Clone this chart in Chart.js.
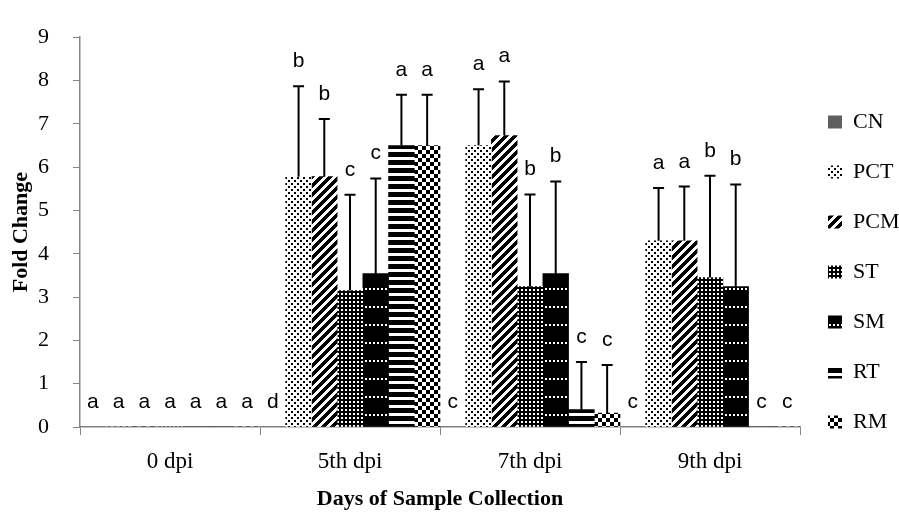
<!DOCTYPE html>
<html>
<head>
<meta charset="utf-8">
<script src="https://cdn.jsdelivr.net/npm/chart.js@4.4.1/dist/chart.umd.min.js"></script>
<style>
    html, body { margin: 0; padding: 0; background: #fff; }
    #wrap { width: 899px; height: 513px; position: relative; }
</style>
</head>
<body>
<div id="wrap"><canvas id="chart"></canvas></div>
<script>
// Datos
const categories = ['0 dpi', '5th dpi', '7th dpi', '9th dpi'];
const seriesNames = ['CN', 'PCT', 'PCM', 'ST', 'SM', 'RT', 'RM'];

const cnValues  = [0, 0, 0, 0];
const pctValues = [0, 5.78, 6.50, 4.30];
const pcmValues = [0, 5.78, 6.73, 4.30];
const stValues  = [0, 3.15, 3.24, 3.45];
const smValues  = [0, 3.54, 3.54, 3.24];
const rtValues  = [0, 6.50, 0.40, 0];
const rmValues  = [0, 6.50, 0.32, 0];

// Barras de error (solo hacia arriba)
const cnErr  = [0, 0, 0, 0];
const pctErr = [0, 2.09, 1.30, 1.22];
const pcmErr = [0, 1.33, 1.25, 1.25];
const stErr  = [0, 2.21, 2.13, 2.35];
const smErr  = [0, 2.20, 2.13, 2.36];
const rtErr  = [0, 1.17, 1.10, 0];
const rmErr  = [0, 1.17, 1.11, 0];

// Letras de significancia
const cnLetters  = ['a', 'd', 'c', 'c'];
const pctLetters = ['a', 'b', 'a', 'a'];
const pcmLetters = ['a', 'b', 'a', 'a'];
const stLetters  = ['a', 'c', 'b', 'b'];
const smLetters  = ['a', 'c', 'b', 'b'];
const rtLetters  = ['a', 'a', 'c', 'c'];
const rmLetters  = ['a', 'a', 'c', 'c'];

const yTicks = { min: 0, max: 9, step: 1 };

const SERIF = '"Liberation Serif", "Times New Roman", serif';
const SANS = '"Liberation Sans", Arial, sans-serif';

const canvas = document.getElementById('chart');
const ctx = canvas.getContext('2d');

/**
 * Crear patron de relleno a partir de una funcion pixel a pixel
 */
function makePattern(w, h, bg, fg, isFg) {
    const c = document.createElement('canvas');
    c.width = w;
    c.height = h;
    const p = c.getContext('2d');
    p.fillStyle = bg;
    p.fillRect(0, 0, w, h);
    p.fillStyle = fg;
    for (let y = 0; y < h; y++) {
        for (let x = 0; x < w; x++) {
            if (isFg(x, y)) p.fillRect(x, y, 1, 1);
        }
    }
    return ctx.createPattern(c, 'repeat');
}

const fills = {
    CN: '#5f5f5f',
    PCT: makePattern(6, 6, '#fff', '#000', (x, y) =>
        (x < 2 && y < 2) || (x >= 3 && x < 5 && y >= 3 && y < 5)),
    PCM: makePattern(9, 9, '#fff', '#000', (x, y) => ((x + y) % 9) < 5),
    ST: makePattern(4, 4, '#000', '#fff', (x, y) => x >= 1 && x < 3 && y >= 1 && y < 3),
    SM: makePattern(4, 18, '#000', '#fff', (x, y) => x >= 1 && x < 3 && y < 2),
    RT: makePattern(8, 8, '#fff', '#000', (x, y) => y < 5),
    RM: makePattern(8, 8, '#fff', '#000', (x, y) =>
        ((((x >> 1) + (y >> 1)) % 2) === 0) !== ((((x >> 2) + (y >> 2)) % 2) === 0))
};

const seriesValues = [cnValues, pctValues, pcmValues, stValues, smValues, rtValues, rmValues];
const seriesErrors = [cnErr, pctErr, pcmErr, stErr, smErr, rtErr, rmErr];
const seriesLetters = [cnLetters, pctLetters, pcmLetters, stLetters, smLetters, rtLetters, rmLetters];

const datasets = seriesNames.map((name, i) => ({
    label: name,
    data: seriesValues[i],
    errors: seriesErrors[i],
    letters: seriesLetters[i],
    backgroundColor: fills[name],
    borderWidth: 0,
    barPercentage: 1,
    categoryPercentage: 1
}));

// Barras de error y letras encima de cada barra
const errorLetters = {
    id: 'errorLetters',
    afterDatasetsDraw(chart) {
        const c = chart.ctx;
        const yScale = chart.scales.y;
        c.save();
        chart.data.datasets.forEach((ds, i) => {
            const meta = chart.getDatasetMeta(i);
            meta.data.forEach((bar, j) => {
                const err = ds.errors[j];
                const topVal = ds.data[j] + err;
                const yTop = yScale.getPixelForValue(topVal);
                if (err > 0) {
                    c.strokeStyle = '#000';
                    c.lineWidth = 2;
                    c.beginPath();
                    c.moveTo(bar.x, bar.y);
                    c.lineTo(bar.x, yTop);
                    c.moveTo(bar.x - 5.5, yTop);
                    c.lineTo(bar.x + 5.5, yTop);
                    c.stroke();
                }
                c.fillStyle = '#000';
                c.font = '21px ' + SANS;
                c.textAlign = 'center';
                c.textBaseline = 'alphabetic';
                c.fillText(ds.letters[j], bar.x, yTop - 19);
            });
        });
        c.restore();
    }
};

new Chart(ctx, {
    type: 'bar',
    data: {
        labels: categories,
        datasets: datasets
    },
    plugins: [errorLetters],
    options: {
        responsive: true,
        maintainAspectRatio: false,
        animation: false,
        layout: {
            padding: { top: 26, right: 0, bottom: 0, left: 0 }
        },
        plugins: {
            tooltip: { enabled: false },
            legend: {
                position: 'right',
                align: 'start',
                maxWidth: 99,
                title: {
                    display: true,
                    text: '',
                    font: { size: 10, lineHeight: '10px' },
                    padding: { top: 47, bottom: 0 }
                },
                labels: {
                    boxWidth: 14,
                    boxHeight: 13,
                    padding: 28,
                    color: '#000',
                    font: { family: SERIF, size: 22, lineHeight: '24px' }
                }
            }
        },
        scales: {
            x: {
                grid: {
                    display: true,
                    drawOnChartArea: false,
                    drawTicks: true,
                    tickLength: 8,
                    color: '#868686',
                    offset: true
                },
                border: { color: '#868686', width: 1.5 },
                ticks: {
                    color: '#000',
                    padding: 13,
                    font: { family: SERIF, size: 23, lineHeight: 1.2 }
                },
                title: {
                    display: true,
                    text: 'Days of Sample Collection',
                    color: '#000',
                    font: { family: SERIF, size: 22, weight: 'bold', lineHeight: 1.2 },
                    padding: { top: -2, bottom: 0 }
                }
            },
            y: {
                min: yTicks.min,
                max: yTicks.max,
                grid: {
                    display: true,
                    drawOnChartArea: false,
                    drawTicks: true,
                    tickLength: 7,
                    color: '#868686'
                },
                border: { color: '#868686', width: 1.5 },
                ticks: {
                    stepSize: yTicks.step,
                    color: '#000',
                    padding: 24,
                    font: { family: SERIF, size: 22 }
                },
                title: {
                    display: true,
                    text: 'Fold Change',
                    color: '#000',
                    font: { family: SERIF, size: 22, weight: 'bold', lineHeight: '14px' },
                    padding: { top: 14, bottom: -14 }
                }
            }
        }
    }
});
</script>
</body>
</html>
